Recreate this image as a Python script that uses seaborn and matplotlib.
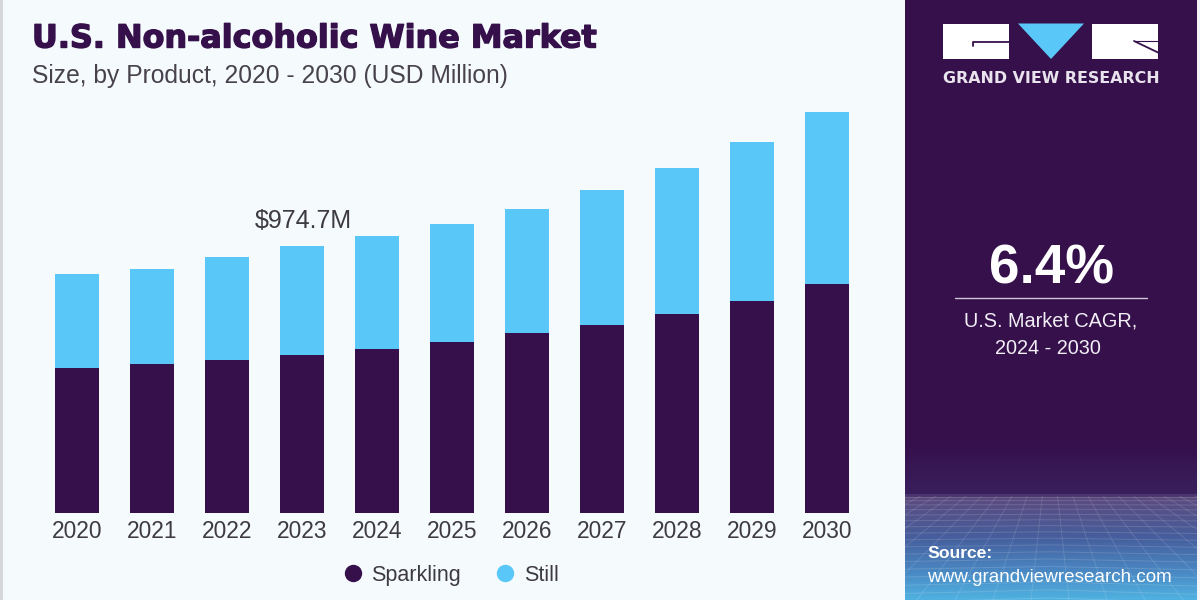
import numpy as np
import pandas as pd
import matplotlib.pyplot as plt
import seaborn as sns
from matplotlib.colors import LinearSegmentedColormap
from matplotlib.lines import Line2D
from matplotlib.patches import Polygon, Rectangle
import matplotlib.patheffects as pe

# values, USD million
years = [2020, 2021, 2022, 2023, 2024, 2025, 2026, 2027, 2028, 2029, 2030]
sparkling = [529, 544, 559, 577, 599, 624, 657, 686, 726, 774, 836]
still = [343, 347, 376, 398, 413, 431, 453, 493, 533, 580, 628]

DARK = '#35104b'
BLUE = '#59c8f9'
BG = '#f5fafd'
W, H = 1200, 600

sns.set_theme(style='white')
plt.rcParams['font.family'] = ['Liberation Sans', 'DejaVu Sans']

df = pd.DataFrame({'year': years, 'Sparkling': sparkling, 'Still': still})
df['total'] = df['Sparkling'] + df['Still']

fig = plt.figure(figsize=(W / 100, H / 100), dpi=100, facecolor=BG)


def px(x, y):
    return x / W, 1 - y / H


# page furniture, drawn in pixel coordinates
bg = fig.add_axes([0, 0, 1, 1], zorder=0)
bg.axis('off')
bg.add_patch(Rectangle((0, 0), 2.5, H, color='#d4d6d8', lw=0))
bg.add_patch(Rectangle((1197, 0), 3, H, color='#f2f4f6', lw=0))

panel = LinearSegmentedColormap.from_list('panel', [
    (0, DARK), (0.74, DARK), (0.825, '#3a1f5e'), (0.83, '#5b4a7e'),
    (0.90, '#465f9e'), (0.96, '#4a8cc6'), (1, '#4fb0e0')])
bg.imshow(np.linspace(0, 1, 600).reshape(-1, 1), cmap=panel, aspect='auto',
          extent=[905, 1197, 600, 0], zorder=1)

# wire mesh at the foot of the panel
for f in np.linspace(0.04, 1, 17) ** 1.35:
    y = 496 + f * 104
    bg.plot([905, 1050, 1197], [y + 2 * f, y - 2 * f, y + 3 * f], color='white', lw=0.7, alpha=0.14, zorder=2)
for x0 in np.linspace(-300, 2400, 72):
    bg.plot([1050 + (x0 - 1050) * 0.4, x0], [496, 600], color='white', lw=0.7, alpha=0.12, zorder=2)
bg.set_xlim(0, W)
bg.set_ylim(H, 0)
bg.add_patch(Rectangle((1197, 480), 3, 120, color='#f2f4f6', lw=0, zorder=3))
bg.add_patch(Rectangle((0, 480), 905, 120, color=BG, lw=0, zorder=3))
bg.add_patch(Rectangle((0, 0), 2.5, H, color='#d4d6d8', lw=0, zorder=3))

# logo
bg.add_patch(Rectangle((943, 23.5), 66, 35.5, color='white', lw=0, zorder=3))
bg.add_patch(Rectangle((1092, 23.5), 66, 35.5, color='white', lw=0, zorder=3))
bg.add_patch(Polygon([(1018, 23.5), (1084, 23.5), (1051, 59)], color=BLUE, lw=0, zorder=3))
bg.plot([973, 973, 1009], [46, 41.5, 41.5], color=DARK, lw=1.3, zorder=4)
bg.plot([1134, 1158], [41, 52.5], color=DARK, lw=1.3, zorder=4)
bg.plot([1134, 1158], [41, 41], color=DARK, lw=0.8, zorder=4)
bg.text(1051.5, 78.5, 'GRAND VIEW RESEARCH', color='#e9e3ee', fontsize=11.4, fontweight='bold',
        ha='center', va='center', zorder=4, family='DejaVu Sans')

# CAGR block
bg.text(1052, 270, '6.4%', color='white', fontsize=39.5, fontweight='bold',
        ha='center', va='center', zorder=4)
bg.plot([955, 1147], [298, 298], color='#cfc6d6', lw=1, zorder=4)
bg.text(1051, 321, 'U.S. Market CAGR,', color='#f2eef5', fontsize=14.3, ha='center', va='center', zorder=4)
bg.text(1048, 348, '2024 - 2030', color='#f2eef5', fontsize=14.3, ha='center', va='center', zorder=4)

# source
bg.text(927, 553, 'Source:', color='white', fontsize=12.6, fontweight='bold', va='center', zorder=4)
bg.text(927, 577, 'www.grandviewresearch.com', color='white', fontsize=13.6, va='center', zorder=4)

# title
title = fig.text(*px(32, 39), 'U.S. Non-alcoholic Wine Market', color=DARK, fontsize=22.9,
                 fontweight='bold', va='center', zorder=5, family='DejaVu Sans')
title.set_path_effects([pe.withStroke(linewidth=1, foreground=DARK)])
fig.text(*px(32, 76), 'Size, by Product, 2020 - 2030 (USD Million)', color='#47424c', fontsize=17.7,
         va='center', zorder=5)

# bars: x runs so the first centre is at 77 px with a 75 px pitch; 0 sits at y=513 px
ax = fig.add_axes([39.5 / W, 1 - 513 / H, 825 / W, 413 / H], zorder=2)
ax.patch.set_alpha(0)
sns.barplot(data=df, x='year', y='total', color=BLUE, width=0.587, saturation=1, linewidth=0, ax=ax)
sns.barplot(data=df, x='year', y='Sparkling', color=DARK, width=0.587, saturation=1, linewidth=0, ax=ax)
ax.set_xlim(-0.5, 10.5)
ax.set_ylim(0, 413 * 974.7 / 267)
ax.set_xlabel('')
ax.set_ylabel('')
ax.set_yticks([])
ax.tick_params(axis='x', length=0, pad=5, labelsize=16.4, labelcolor='#3d3a42')
sns.despine(ax=ax, left=True, bottom=True)

ax.annotate(r'\$974.7M', (3, df['total'][3]), xytext=(1, 25),
            textcoords='offset pixels', ha='center', va='center', fontsize=18, color='#3d3a42')

handles = [Line2D([], [], marker='o', ls='', ms=11.5, color=DARK, label='Sparkling'),
           Line2D([], [], marker='o', ls='', ms=11.5, color=BLUE, label='Still')]
fig.legend(handles=handles, loc='center', bbox_to_anchor=px(450.5, 575.5), ncol=2, frameon=False,
           fontsize=15.5, labelcolor='#3d3a42', handlelength=1, handletextpad=0.37, columnspacing=1.55)

fig.savefig('out.png', dpi=100, facecolor=BG)
